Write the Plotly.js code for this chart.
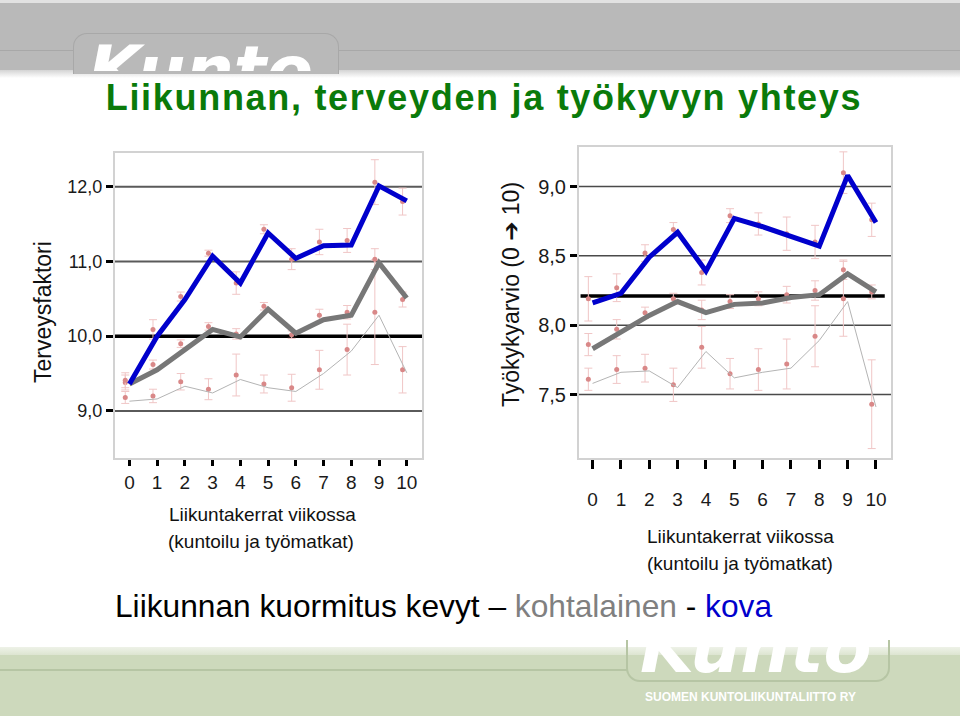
<!DOCTYPE html>
<html>
<head>
<meta charset="utf-8">
<script src="https://cdn.plot.ly/plotly-3.0.1.min.js"></script>
<style>
  html, body { margin:0; padding:0; background:#fff; }
  #wrap { position:relative; width:960px; height:716px; overflow:hidden; background:#fff; }
  .abs { position:absolute; }
  .clip { position:absolute; overflow:hidden; }
  .logo { position:absolute; color:#fff; font-family:"DejaVu Sans", sans-serif; font-style:italic; font-weight:bold; white-space:nowrap; }
  #chart { position:absolute; left:0; top:0; width:960px; height:716px; }
  #chart .gtitle { letter-spacing: 1.7px; }
</style>
</head>
<body>
<div id="wrap">
  <!-- top band -->
  <div class="abs" style="left:0;top:0;width:960px;height:3px;background:#e2e2e2"></div>
  <div class="abs" style="left:0;top:3px;width:960px;height:67px;background:#b9b9b9"></div>
  <div class="abs" style="left:0;top:70px;width:960px;height:8px;background:linear-gradient(#d4d4d4,#ffffff)"></div>
  <div class="abs" style="left:0;top:50px;width:960px;height:1px;background:#a8a8a8"></div>
  <div class="abs" style="left:73px;top:33px;width:264px;height:40px;border:1px solid #a8a8a8;border-bottom:none;border-radius:14px 14px 0 0;background:#b9b9b9"></div>
  <div class="clip" style="left:0;top:0;width:960px;height:71px">
    <div class="logo" style="left:88px;top:66px;font-size:68px;line-height:10px">Kunto</div>
  </div>
  <!-- bottom band -->
  <div class="abs" style="left:0;top:647px;width:960px;height:8px;background:linear-gradient(#eef2e8,#dde5d1)"></div>
  <div class="abs" style="left:0;top:655px;width:960px;height:61px;background:#cdd9bc"></div>
  <div class="abs" style="left:0;top:669px;width:627px;height:2px;background:#b6c5a4"></div>
  <div class="abs" style="left:626px;top:640px;width:260px;height:40px;border:2px solid #b6c5a4;border-top:none;border-radius:0 0 14px 14px"></div>
  <div class="clip" style="left:0;top:647px;width:960px;height:69px">
    <div class="logo" style="left:640px;top:-11px;font-size:70px;line-height:24px">Kunto</div>
  </div>
  <div id="chart"></div>
</div>
<script>
// ---------- data ----------
const categories = [0,1,2,3,4,5,6,7,8,9,10];
const tickLabelsX = ["0","1","2","3","4","5","6","7","8","9","10"];

// Left chart: Terveysfaktori
const leftTickVals = [9,10,11,12];
const leftTickText = ["9,0","10,0","11,0","12,0"];
const leftRef = [10.0];
const leftHard   = [9.36,10.00,10.49,11.07,10.71,11.38,11.04,11.21,11.22,12.01,11.81];
const leftMod    = [9.36, 9.55, 9.82,10.09, 9.99,10.36,10.04,10.22,10.28,10.98,10.51];
const leftLight  = [9.13, 9.16, 9.33, 9.24, 9.42, 9.31, 9.26, 9.50, 9.80,10.28, 9.51];
const leftHardMean  = [9.41,10.09,10.53,11.11,10.71,11.43,11.03,11.26,11.28,12.06,11.80];
const leftModMean   = [9.38, 9.62, 9.90,10.13,10.03,10.40,10.02,10.28,10.32,11.03,10.49];
const leftLightMean = [9.18, 9.20, 9.39, 9.29, 9.48, 9.36, 9.31, 9.55, 9.82,10.32, 9.55];
const leftHardErr  = [0.10,0.13,0.06,0.04,0.15,0.06,0.14,0.17,0.16,0.30,0.18];
const leftModErr   = [0.10,0.06,0.05,0.05,0.07,0.05,0.05,0.08,0.09,0.14,0.10];
const leftLightErr = [0.08,0.09,0.11,0.14,0.28,0.12,0.18,0.26,0.34,0.70,0.31];

// Right chart: Työkykyarvio
const rightTickVals = [7.5,8.0,8.5,9.0];
const rightTickText = ["7,5","8,0","8,5","9,0"];
const rightRef = [8.21];
const rightHard  = [8.16,8.23,8.49,8.67,8.39,8.77,8.71,8.64,8.57,9.08,8.74];
const rightMod   = [7.83,7.95,8.07,8.17,8.09,8.15,8.16,8.20,8.22,8.37,8.24];
const rightLight = [7.58,7.66,7.67,7.55,7.81,7.62,7.66,7.69,7.89,8.17,7.41];
const rightHardMean  = [8.19,8.27,8.52,8.69,8.38,8.79,8.73,8.66,8.60,9.10,8.76];
const rightModMean   = [7.86,7.97,8.09,8.19,8.11,8.17,8.19,8.22,8.25,8.40,8.24];
const rightLightMean = [7.61,7.68,7.69,7.57,7.84,7.65,7.68,7.72,7.92,8.19,7.43];
const rightHardErr  = [0.16,0.10,0.06,0.05,0.09,0.05,0.08,0.12,0.12,0.15,0.12];
const rightModErr   = [0.08,0.07,0.04,0.04,0.07,0.05,0.05,0.06,0.07,0.07,0.05];
const rightLightErr = [0.08,0.10,0.10,0.12,0.15,0.11,0.15,0.18,0.22,0.27,0.32];

// ---------- styles ----------
const BLUE = '#0000cc', GRAY = '#777777', LIGHT = '#b4b4b4';
const DOT = '#d98888', ERR = '#f0c6c6';
const dotOffset = 0.15;
const FONT = 'Liberation Sans, Arial, sans-serif';

function dotTrace(means, errs, xa, ya) {
  return {
    x: categories.map(c => c - dotOffset), y: means, xaxis: xa, yaxis: ya,
    type: 'scatter', mode: 'markers', hoverinfo: 'skip', showlegend: false,
    marker: { color: DOT, size: 5 },
    error_y: { type: 'data', array: errs, visible: true, color: ERR, thickness: 1, width: 4 }
  };
}
function lineTrace(vals, color, width, xa, ya) {
  return {
    x: categories, y: vals, xaxis: xa, yaxis: ya, type: 'scatter', mode: 'lines',
    line: { color: color, width: width }, showlegend: false, hoverinfo: 'skip'
  };
}

const traces = [
  dotTrace(leftLightMean, leftLightErr, 'x', 'y'),
  dotTrace(leftModMean, leftModErr, 'x', 'y'),
  dotTrace(leftHardMean, leftHardErr, 'x', 'y'),
  lineTrace(leftLight, LIGHT, 1, 'x', 'y'),
  lineTrace(leftMod, GRAY, 5, 'x', 'y'),
  lineTrace(leftHard, BLUE, 5, 'x', 'y'),
  dotTrace(rightLightMean, rightLightErr, 'x2', 'y2'),
  dotTrace(rightModMean, rightModErr, 'x2', 'y2'),
  dotTrace(rightHardMean, rightHardErr, 'x2', 'y2'),
  lineTrace(rightLight, LIGHT, 1, 'x2', 'y2'),
  lineTrace(rightMod, GRAY, 5, 'x2', 'y2'),
  lineTrace(rightHard, BLUE, 5, 'x2', 'y2')
];

const W = 960, H = 716;
const px = v => v / W, py = v => 1 - v / H;

const xCommon = {
  tickvals: categories, ticktext: tickLabelsX, ticks: 'outside', tickwidth: 3, tickcolor: '#000',
  showline: true, linecolor: '#d2d2d2', linewidth: 2, mirror: true,
  showgrid: false, zeroline: false, fixedrange: true,
  tickfont: { family: FONT, size: 19, color: '#1a1a1a' }
};
const yCommon = {
  ticks: 'outside', ticklen: 7, tickwidth: 3, tickcolor: '#000',
  showline: true, linecolor: '#d2d2d2', linewidth: 2, mirror: true,
  showgrid: false, zeroline: false, fixedrange: true
};

// gridlines (as shapes, from tick values) + reference lines
const shapes = [];
leftTickVals.forEach(v => shapes.push({ type: 'line', layer: 'below', xref: 'x domain', yref: 'y',
  x0: 0, x1: 1, y0: v, y1: v, line: { color: '#5a5a5a', width: 2 } }));
rightTickVals.forEach(v => shapes.push({ type: 'line', layer: 'below', xref: 'x2 domain', yref: 'y2',
  x0: 0, x1: 1, y0: v, y1: v, line: { color: '#4a4a4a', width: 1.5 } }));
shapes.push({ type: 'line', layer: 'below', xref: 'x domain', yref: 'y', x0: 0, x1: 1,
  y0: leftRef[0], y1: leftRef[0], line: { color: '#000', width: 3.5 } });
shapes.push({ type: 'line', layer: 'below', xref: 'x2 domain', yref: 'y2', x0: 0.005, x1: 0.98,
  y0: rightRef[0], y1: rightRef[0], line: { color: '#000', width: 3.5 } });

const layout = {
  width: W, height: H,
  margin: { l: 0, r: 0, t: 0, b: 0 },
  paper_bgcolor: 'rgba(0,0,0,0)', plot_bgcolor: '#ffffff',
  font: { family: FONT, color: '#1a1a1a' },
  showlegend: false,
  title: {
    text: '<b>Liikunnan, terveyden ja työkyvyn yhteys</b>',
    font: { family: FONT, size: 36, color: '#0a7a0a' },
    x: px(484), xanchor: 'center', y: py(97), yanchor: 'middle', xref: 'paper', yref: 'paper'
  },
  xaxis: Object.assign({}, xCommon, {
    domain: [px(115), px(422)], range: [-0.52, 10.55], anchor: 'y', ticklen: 6, ticklabelstandoff: 0
  }),
  yaxis: Object.assign({}, yCommon, {
    domain: [py(458), py(153)], range: [8.37, 12.45], anchor: 'x',
    tickvals: leftTickVals, ticktext: leftTickText,
    tickfont: { family: FONT, size: 18, color: '#1a1a1a' }
  }),
  xaxis2: Object.assign({}, xCommon, {
    domain: [px(579), px(891)], range: [-0.48, 10.53], anchor: 'y2', ticklen: 9, ticklabelstandoff: 14
  }),
  yaxis2: Object.assign({}, yCommon, {
    domain: [py(458), py(147)], range: [7.042, 9.285], anchor: 'x2',
    tickvals: rightTickVals, ticktext: rightTickText,
    tickfont: { family: FONT, size: 20, color: '#1a1a1a' }
  }),
  shapes: shapes,
  annotations: [
    { text: 'Terveysfaktori', xref: 'paper', yref: 'paper', x: px(43), y: py(312), textangle: -90,
      showarrow: false, xanchor: 'center', yanchor: 'middle', font: { family: FONT, size: 23, color: '#111' } },
    { text: 'Työkykyarvio (0 <span style="font-family:DejaVu Sans;font-weight:bold">➔</span> 10)', xref: 'paper', yref: 'paper', x: px(511), y: py(295), textangle: -90,
      showarrow: false, xanchor: 'center', yanchor: 'middle', font: { family: FONT, size: 23, color: '#111' } },
    { text: 'Liikuntakerrat viikossa', xref: 'paper', yref: 'paper', x: px(262), y: py(514),
      showarrow: false, xanchor: 'center', yanchor: 'middle', font: { family: FONT, size: 19, color: '#111' } },
    { text: '(kuntoilu ja työmatkat)', xref: 'paper', yref: 'paper', x: px(261), y: py(541),
      showarrow: false, xanchor: 'center', yanchor: 'middle', font: { family: FONT, size: 19, color: '#111' } },
    { text: 'Liikuntakerrat viikossa', xref: 'paper', yref: 'paper', x: px(740), y: py(536),
      showarrow: false, xanchor: 'center', yanchor: 'middle', font: { family: FONT, size: 19, color: '#111' } },
    { text: '(kuntoilu ja työmatkat)', xref: 'paper', yref: 'paper', x: px(740), y: py(563),
      showarrow: false, xanchor: 'center', yanchor: 'middle', font: { family: FONT, size: 19, color: '#111' } },
    { text: 'Liikunnan kuormitus kevyt – <span style="color:#808080">kohtalainen</span> - <span style="color:#0000cc">kova</span>',
      xref: 'paper', yref: 'paper', x: px(443), y: py(606),
      showarrow: false, xanchor: 'center', yanchor: 'middle', font: { family: FONT, size: 31.7, color: '#000' } },
    { text: '<b>SUOMEN KUNTOLIIKUNTALIITTO RY</b>', xref: 'paper', yref: 'paper', x: px(750), y: py(697),
      showarrow: false, xanchor: 'center', yanchor: 'middle', font: { family: FONT, size: 12, color: '#ffffff' } }
  ]
};

Plotly.newPlot('chart', traces, layout, { staticPlot: true, displayModeBar: false });
</script>
</body>
</html>
